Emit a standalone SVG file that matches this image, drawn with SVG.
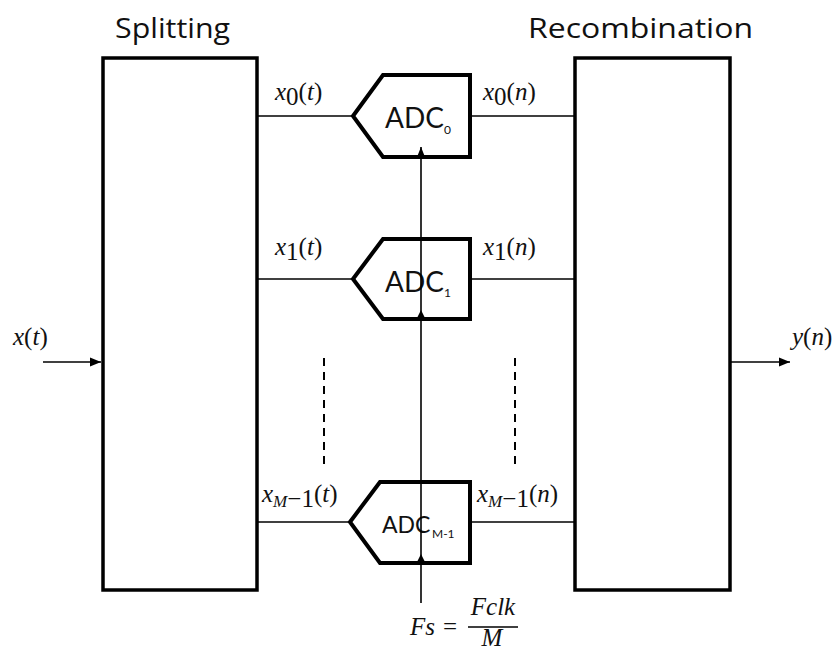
<svg xmlns="http://www.w3.org/2000/svg" width="840" height="651" viewBox="0 0 840 651">
<defs>
<style>
.box{fill:#fff;stroke:#000;stroke-width:3.5}
.adc{fill:#fff;stroke:#000;stroke-width:4;stroke-linejoin:miter}
.ln{stroke:#000;stroke-width:1.6;fill:none}
.dash{stroke:#000;stroke-width:2;stroke-dasharray:8,6;fill:none}
.title{font-family:"Open Sans",Lato,sans-serif;font-size:28px;fill:#111}
.adct{font-family:Lato,"Open Sans",sans-serif;fill:#111}
.m{font-family:"Liberation Serif",serif;font-style:italic;font-size:25px;fill:#111}
.mu{font-family:"Liberation Serif",serif;font-style:normal;font-size:25px;fill:#111}
</style>
<marker id="ah" viewBox="0 0 10 10" refX="10" refY="5" markerWidth="11" markerHeight="11" markerUnits="userSpaceOnUse" orient="auto">
<path d="M0,1 L10,5 L0,9 z" fill="#000"/>
</marker>
<marker id="sh" viewBox="0 0 10 10" refX="10" refY="5" markerWidth="10" markerHeight="9" markerUnits="userSpaceOnUse" orient="auto">
<path d="M0,1 L10,5 L0,9 z" fill="#000"/>
</marker>
</defs>

<g id="splitting">
<rect class="box" x="103" y="58" width="154" height="532"/>
<text class="title" x="115" y="38" textLength="115" lengthAdjust="spacingAndGlyphs">Splitting</text>
</g>
<g id="recombination">
<rect class="box" x="575" y="58" width="155" height="532"/>
<text class="title" x="528" y="38" textLength="225" lengthAdjust="spacingAndGlyphs">Recombination</text>
</g>

<g id="connectors">
<line class="ln" x1="257" y1="116" x2="353" y2="116"/>
<line class="ln" x1="470" y1="116" x2="575" y2="116"/>
<line class="ln" x1="257" y1="279" x2="353" y2="279"/>
<line class="ln" x1="470" y1="279" x2="575" y2="279"/>
<line class="ln" x1="257" y1="522" x2="350" y2="522"/>
<line class="ln" x1="470" y1="522" x2="575" y2="522"/>
<line class="ln" x1="43" y1="362" x2="101" y2="362" marker-end="url(#ah)"/>
<line class="ln" x1="730" y1="362" x2="790" y2="362" marker-end="url(#ah)"/>
<line class="dash" x1="324" y1="358" x2="324" y2="466"/>
<line class="dash" x1="515" y1="358" x2="515" y2="466"/>
</g>

<g id="adc0">
<path class="adc" d="M353,116 L383,75 L470,75 L470,157 L383,157 Z"/>
<text class="adct" x="385" y="128" font-size="28">ADC</text>
<text class="adct" x="444" y="134" font-size="12">0</text>
</g>
<g id="adc1">
<path class="adc" d="M353,279 L383,239 L470,239 L470,319 L383,319 Z"/>
<text class="adct" x="385" y="292" font-size="28">ADC</text>
<text class="adct" x="444" y="297" font-size="12">1</text>
</g>
<g id="adcm1">
<path class="adc" d="M350,522 L380,482 L470,482 L470,563 L380,563 Z"/>
<text class="adct" x="382" y="533" font-size="23">ADC</text>
<text class="adct" x="432" y="538" font-size="12">M-1</text>
</g>

<g id="clock">
<line class="ln" x1="421" y1="603" x2="421" y2="147" marker-end="url(#sh)"/>
<path d="M416.5,319 L421,310 L425.5,319 Z" fill="#000"/>
<path d="M416.5,563 L421,554 L425.5,563 Z" fill="#000"/>
<text class="m" x="410" y="635" font-size="26">Fs</text>
<text class="mu" x="443" y="635" font-size="26">=</text>
<line x1="468" y1="627" x2="518" y2="627" stroke="#000" stroke-width="1.3"/>
<text class="m" x="493" y="615" text-anchor="middle" font-size="26">Fclk</text>
<text class="m" x="492" y="646" text-anchor="middle" font-size="22">M</text>
</g>

<g id="labels">
<text class="m" x="275" y="100">x<tspan class="mu" font-size="17" dy="5">0</tspan><tspan class="mu" dy="-5">(</tspan>t<tspan class="mu">)</tspan></text>
<text class="m" x="483" y="100">x<tspan class="mu" font-size="17" dy="5">0</tspan><tspan class="mu" dy="-5">(</tspan>n<tspan class="mu">)</tspan></text>
<text class="m" x="275" y="255">x<tspan class="mu" font-size="17" dy="5">1</tspan><tspan class="mu" dy="-5">(</tspan>t<tspan class="mu">)</tspan></text>
<text class="m" x="483" y="255">x<tspan class="mu" font-size="17" dy="5">1</tspan><tspan class="mu" dy="-5">(</tspan>n<tspan class="mu">)</tspan></text>
<text class="m" x="262" y="502">x<tspan font-size="17" dy="5">M</tspan><tspan class="mu" font-size="17">−1</tspan><tspan class="mu" dy="-5">(</tspan>t<tspan class="mu">)</tspan></text>
<text class="m" x="477" y="502">x<tspan font-size="17" dy="5">M</tspan><tspan class="mu" font-size="17">−1</tspan><tspan class="mu" dy="-5">(</tspan>n<tspan class="mu">)</tspan></text>
<text class="m" x="13" y="345">x<tspan class="mu">(</tspan>t<tspan class="mu">)</tspan></text>
<text class="m" x="792" y="345">y<tspan class="mu">(</tspan>n<tspan class="mu">)</tspan></text>
</g>
</svg>
